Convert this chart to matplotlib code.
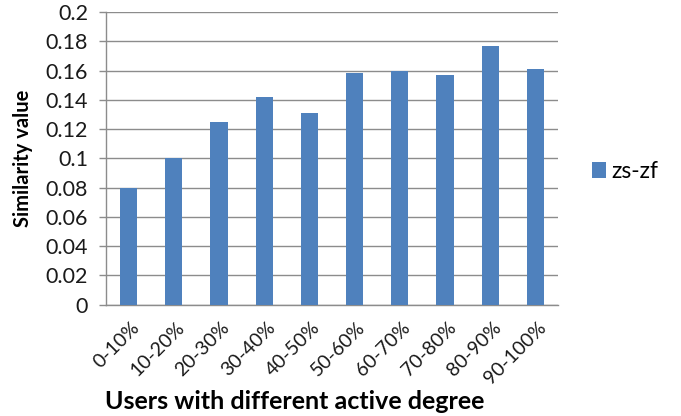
import matplotlib
matplotlib.use("Agg")
import matplotlib.pyplot as plt
import matplotlib.transforms as mtransforms
import numpy as np

plt.rcParams['font.family'] = ['Lato', 'DejaVu Sans']

categories = ["0-10%", "10-20%", "20-30%", "30-40%", "40-50%",
              "50-60%", "60-70%", "70-80%", "80-90%", "90-100%"]
similarity = [0.080, 0.100, 0.125, 0.142, 0.131, 0.158, 0.160, 0.157, 0.177, 0.161]
series_name = "zs-zf"
y_ticks = [0, 0.02, 0.04, 0.06, 0.08, 0.1, 0.12, 0.14, 0.16, 0.18, 0.2]
y_tick_labels = ["0", "0.02", "0.04", "0.06", "0.08", "0.1", "0.12", "0.14", "0.16", "0.18", "0.2"]

bar_color = "#4F81BD"
grid_color = "#8c8c8c"
text_color = "#1a1a1a"

fig = plt.figure(figsize=(6.81, 4.16), dpi=100)
ax = fig.add_axes([0.1557, 0.268, 0.6637, 0.703])

x = np.arange(len(categories))
ax.bar(x, similarity, width=0.38, color=bar_color, label=series_name, zorder=3)

ax.set_xlim(-0.5, len(categories) - 0.5)
ax.set_ylim(0, 0.2)
ax.set_yticks(y_ticks)
ax.set_yticklabels(y_tick_labels, fontsize=15.5, color=text_color)
ax.yaxis.grid(True, color=grid_color, linewidth=1.0, zorder=0)

ax.set_xticks(x)
ax.set_xticklabels(categories, rotation=45, ha="right", rotation_mode="anchor",
                   fontsize=14, color=text_color)
ax.tick_params(axis="x", length=0, pad=10)
ax.tick_params(axis="y", length=5, color=grid_color, width=1.0, pad=8)
shift = mtransforms.ScaledTranslation(2 / 100, 0, fig.dpi_scale_trans)
for lbl in ax.get_xticklabels():
    lbl.set_transform(lbl.get_transform() + shift)

for side in ("top", "right"):
    ax.spines[side].set_visible(False)
ax.spines["left"].set_color(grid_color)
ax.spines["bottom"].set_color(grid_color)
ax.spines["left"].set_linewidth(1.0)
ax.spines["bottom"].set_linewidth(1.0)

ax.set_ylabel("Similarity value", fontsize=14.5, fontweight="bold", color="black")
ax.set_xlabel("Users with different active degree", fontsize=18, fontweight="bold",
              color="black", va="center")
ax.yaxis.set_label_coords(-0.161, 0.5)
ax.xaxis.set_label_coords(0.418, -0.33)

ax.legend(loc="center left", bbox_to_anchor=(1.075, 0.455), frameon=False,
          borderaxespad=0, borderpad=0,
          fontsize=16.5, handlelength=0.6, handleheight=0.7, handletextpad=0.25)

fig.savefig("out.png", dpi=100)
